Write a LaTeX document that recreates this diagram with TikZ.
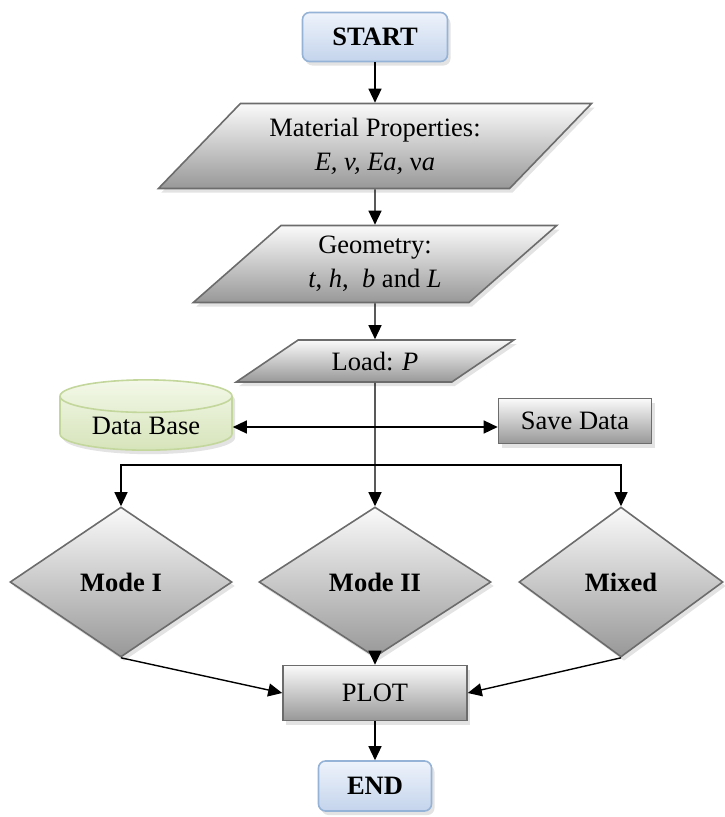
\documentclass[tikz,border=0pt]{standalone}
\usepackage{fontspec}
\setmainfont{Liberation Serif}
\usetikzlibrary{shapes.geometric,arrows.meta,shadows}

\definecolor{boxline}{RGB}{108,108,108}
\definecolor{greytop}{RGB}{250,250,250}
\definecolor{greybot}{RGB}{152,152,152}
\definecolor{bluetop}{RGB}{238,243,251}
\definecolor{bluebot}{RGB}{196,212,236}
\definecolor{blueline}{RGB}{149,179,215}
\definecolor{greentop}{RGB}{243,248,232}
\definecolor{greenbot}{RGB}{214,228,186}
\definecolor{greenline}{RGB}{195,214,155}

\tikzset{
	txt/.style={font=\fontsize{26.5}{34}\selectfont, align=center, inner sep=4pt},
	shade/.style={drop shadow={shadow xshift=3pt, shadow yshift=-4pt, fill=black!22}},
	greybox/.style={txt, shade, draw=boxline, line width=1.6pt, top color=greytop, bottom color=greybot},
	term/.style={txt, shade, draw=blueline, line width=1.6pt, rounded corners=7pt, top color=bluetop, bottom color=bluebot},
	io/.style={greybox, trapezium, trapezium left angle=44, trapezium right angle=136, trapezium stretches=true},
	proc/.style={greybox, rectangle},
	choice/.style={greybox, diamond, minimum width=222pt, minimum height=150pt},
	store/.style={txt, shade, cylinder, shape border rotate=90, aspect=0.28, draw=greenline, line width=1.6pt, top color=greentop, bottom color=greenbot},
	arr/.style={line width=1.4pt, -{Triangle[length=14pt,width=13pt]}},
	dblarr/.style={line width=1.4pt, {Triangle[length=14pt,width=13pt]}-{Triangle[length=14pt,width=13pt]}}
}

\begin{document}
\begin{tikzpicture}[x=1pt,y=-1pt]
	\useasboundingbox (0,0) rectangle (725,817);
	\node[term, minimum width=145pt, minimum height=49pt] at (375,37) (start) {\bfseries START};
	\node[io, minimum width=435pt, minimum height=85pt] at (375,146) (matprop) {Material Properties:\\ \textit{E, v, Ea, }ν\textit{a}};
	\node[io, minimum width=365pt, minimum height=77pt] at (375,264) (geom) {Geometry:\\ \textit{t}, \textit{h},\ \ \textit{b} and \textit{L}};
	\node[io, trapezium left angle=35, trapezium right angle=145, minimum width=278pt, minimum height=42pt] at (375,361) (load) {Load: \textit{P}};
	\node[store, minimum width=172pt, minimum height=64pt] at (146,426) (dbase) {Data Base};
	\node[proc, minimum width=153pt, minimum height=45pt] at (575,421) (save) {Save Data};
	\node[choice] at (121,582) (mode1) {\bfseries Mode I};
	\node[choice, minimum width=232pt] at (375,582) (mode2) {\bfseries Mode II};
	\node[choice, minimum width=204pt] at (621,582) (mixed) {\bfseries Mixed};
	\node[proc, minimum width=184pt, minimum height=55pt] at (375,693) (plot) {PLOT};
	\node[term, minimum width=113pt, minimum height=50pt] at (375,786) (theend) {\bfseries END};
	\coordinate (hub) at (375,427);
	\coordinate (split) at (375,465);
	\draw[arr] (start)--(matprop);
	\draw[arr] (matprop)--(geom);
	\draw[arr] (geom)--(load);
	\draw[arr] (load)--(mode2);
	\draw[dblarr] (hub -| dbase.east)--(hub -| save.west);
	\draw[arr] (split)-|(mode1);
	\draw[arr] (split)-|(mixed);
	\draw[arr] (mode1.south)--(plot.west);
	\draw[arr] (mode2)--(plot);
	\draw[arr] (mixed.south)--(plot.east);
	\draw[arr] (plot)--(theend);
\end{tikzpicture}
\end{document}
